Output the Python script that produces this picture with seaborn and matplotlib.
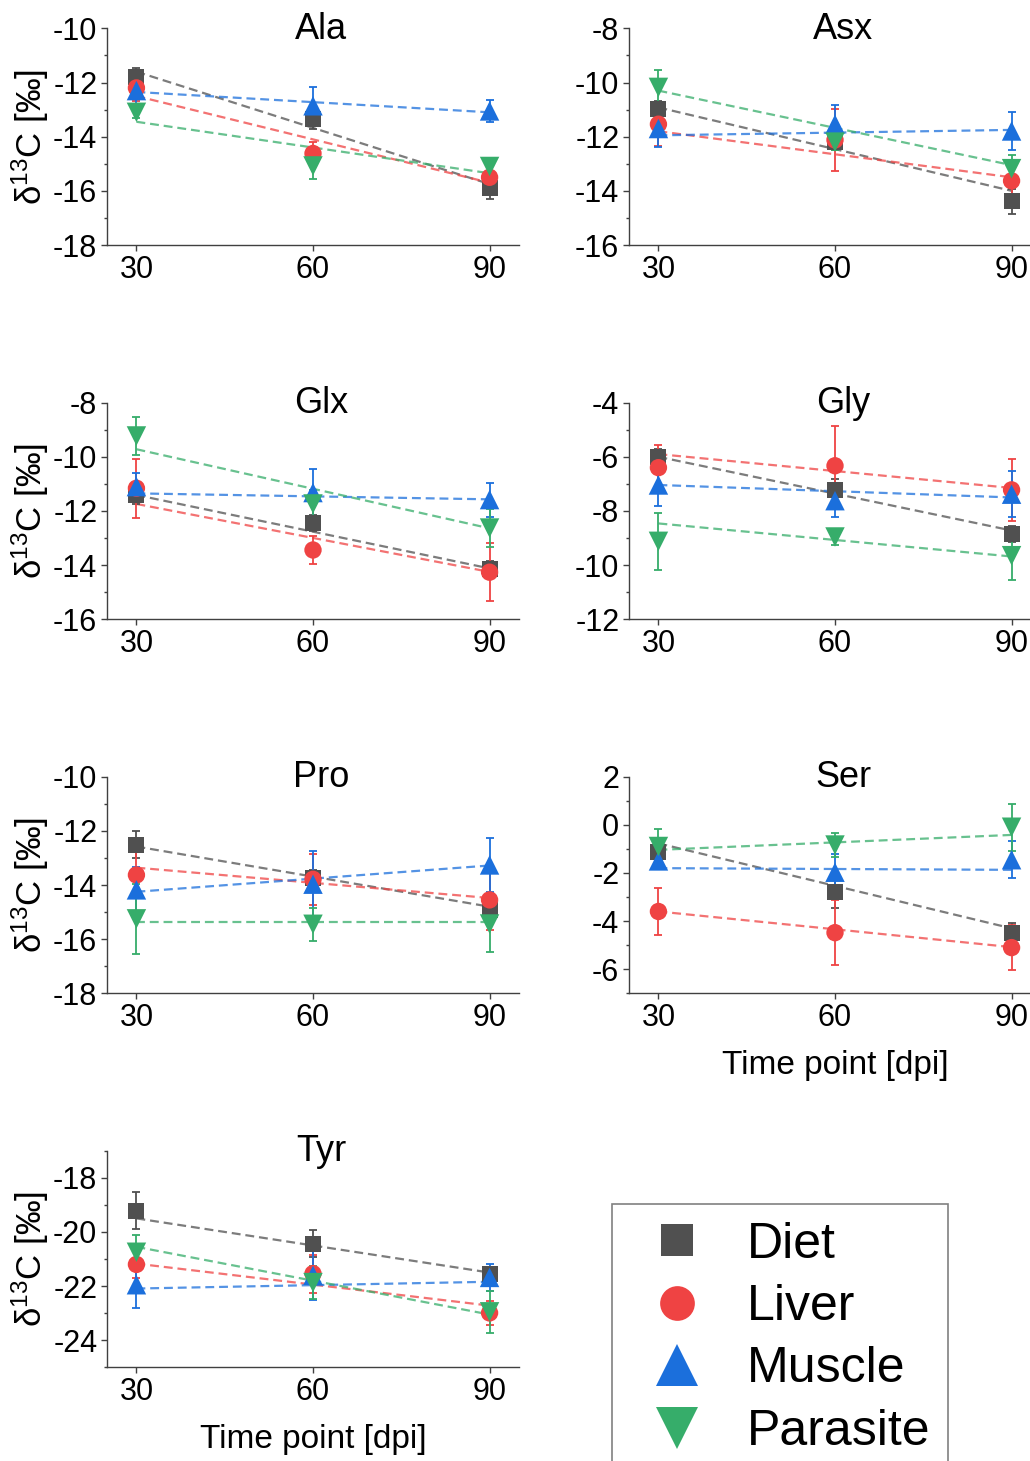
import numpy as np
import pandas as pd
import matplotlib
matplotlib.use("Agg")
import matplotlib.pyplot as plt
import seaborn as sns
from matplotlib.lines import Line2D
from matplotlib.ticker import MultipleLocator

sns.set_theme(style="ticks")
plt.rcParams["font.family"] = ["Liberation Sans", "DejaVu Sans"]
plt.rcParams["axes.unicode_minus"] = False
plt.rcParams["mathtext.default"] = "regular"
plt.rcParams["text.color"] = "black"
plt.rcParams["axes.labelcolor"] = "black"
plt.rcParams["xtick.color"] = "black"
plt.rcParams["ytick.color"] = "black"

# ---------------------------------------------------------------- data
days = [30, 60, 90]
tissues = ["Diet", "Liver", "Muscle", "Parasite"]

# mean delta13C per tissue (rows: Diet, Liver, Muscle, Parasite; cols: 30/60/90 dpi)
ala_mean = [[-11.78, -13.35, -15.88], [-12.2, -14.62, -15.5], [-12.3, -12.86, -13.05], [-13.1, -15.08, -15.1]]
ala_err = [[0.3, 0.38, 0.42], [0.5, 0.43, 0.5], [0.5, 0.7, 0.4], [0.2, 0.5, 0.3]]
ala_fit = [[-11.6, -15.75], [-12.5, -15.7], [-12.35, -13.1], [-13.45, -15.35]]

asx_mean = [[-10.98, -12.2, -14.39], [-11.54, -12.12, -13.63], [-11.7, -11.54, -11.79], [-10.18, -12.2, -13.18]]
asx_err = [[0.3, 0.3, 0.45], [0.8, 1.15, 0.7], [0.67, 0.7, 0.7], [0.65, 0.3, 0.5]]
asx_fit = [[-10.92, -14.0], [-11.8, -13.5], [-11.95, -11.75], [-10.3, -13.05]]

glx_mean = [[-11.41, -12.43, -14.15], [-11.16, -13.44, -14.26], [-11.1, -11.32, -11.58], [-9.23, -11.74, -12.63]]
glx_err = [[0.35, 0.3, 0.3], [1.09, 0.5, 1.08], [0.5, 0.87, 0.63], [0.69, 0.5, 0.7]]
glx_fit = [[-11.41, -14.12], [-11.74, -14.25], [-11.35, -11.57], [-9.72, -12.64]]

gly_mean = [[-6.02, -7.22, -8.85], [-6.4, -6.33, -7.22], [-7.04, -7.62, -7.38], [-9.12, -8.96, -9.65]]
gly_err = [[0.3, 0.4, 0.3], [0.83, 1.45, 1.15], [0.77, 0.62, 0.85], [1.05, 0.3, 0.9]]
gly_fit = [[-6.0, -8.72], [-5.9, -7.15], [-7.04, -7.5], [-8.46, -9.68]]

pro_mean = [[-12.52, -13.75, -14.92], [-13.63, -13.79, -14.55], [-14.18, -13.97, -13.26], [-15.25, -15.45, -15.44]]
pro_err = [[0.5, 0.3, 0.4], [0.85, 0.95, 1.1], [0.85, 1.23, 1.0], [1.3, 0.6, 1.05]]
pro_fit = [[-12.58, -14.8], [-13.36, -14.48], [-14.25, -13.28], [-15.35, -15.35]]

ser_mean = [[-1.11, -2.79, -4.48], [-3.6, -4.48, -5.1], [-1.5, -1.97, -1.45], [-0.9, -0.84, -0.1]]
ser_err = [[0.4, 0.68, 0.4], [0.97, 1.36, 0.95], [0.3, 0.75, 0.77], [0.73, 0.5, 0.97]]
ser_fit = [[-0.77, -4.3], [-3.6, -5.08], [-1.8, -1.87], [-1.04, -0.42]]

tyr_mean = [[-19.22, -20.44, -21.54], [-21.2, -21.54, -22.99], [-21.95, -21.6, -21.68], [-20.75, -21.87, -22.95]]
tyr_err = [[0.68, 0.5, 0.25], [0.5, 0.7, 0.45], [0.86, 0.9, 0.5], [0.65, 0.6, 0.78]]
tyr_fit = [[-19.5, -21.5], [-21.17, -22.72], [-22.09, -21.84], [-20.55, -23.05]]

# ---------------------------------------------------------------- style
palette = {"Diet": "#505050", "Liver": "#EF4343", "Muscle": "#1B6FDC", "Parasite": "#36AD6A"}
marker_map = {"Diet": "s", "Liver": "o", "Muscle": "^", "Parasite": "v"}
size_map = {"Diet": 11.5 ** 2, "Liver": 12.5 ** 2, "Muscle": 14 ** 2, "Parasite": 14 ** 2}
dash_map = {t: (4, 2.2) for t in tissues}

panels = [
    ("Ala", ala_mean, ala_err, ala_fit, (-18, -10), 0, 0),
    ("Asx", asx_mean, asx_err, asx_fit, (-16, -8), 0, 1),
    ("Glx", glx_mean, glx_err, glx_fit, (-16, -8), 1, 0),
    ("Gly", gly_mean, gly_err, gly_fit, (-12, -4), 1, 1),
    ("Pro", pro_mean, pro_err, pro_fit, (-18, -10), 2, 0),
    ("Ser", ser_mean, ser_err, ser_fit, (-7, 2), 2, 1),
    ("Tyr", tyr_mean, tyr_err, tyr_fit, (-25, -17), 3, 0),
]

W, H = 1030, 1461
fig = plt.figure(figsize=(W / 100, H / 100), dpi=100)
col_left = [107 / W, 629 / W]
row_bottom = [0.8323, 0.5761, 0.3201, 0.0641]
ax_w, ax_h = 412 / W, 0.1483
spine_c = "#404040"

for name, means, errs, fits, ylim, r, c in panels:
    ax = fig.add_axes([col_left[c], row_bottom[r], ax_w, ax_h])

    pts = pd.DataFrame(
        [(d, means[i][j], errs[i][j], t) for i, t in enumerate(tissues) for j, d in enumerate(days)],
        columns=["day", "value", "err", "tissue"],
    )
    fit = pd.DataFrame(
        [(d, fits[i][k], t) for i, t in enumerate(tissues) for k, d in enumerate([days[0], days[-1]])],
        columns=["day", "value", "tissue"],
    )

    # regression lines
    sns.lineplot(data=fit, x="day", y="value", hue="tissue", style="tissue",
                 palette=palette, dashes=dash_map, hue_order=tissues, style_order=tissues,
                 linewidth=1.6, alpha=0.75, legend=False, ax=ax, zorder=2)

    # error bars
    for t in tissues:
        sub = pts[pts.tissue == t]
        ax.errorbar(sub.day, sub.value, yerr=sub.err, fmt="none", ecolor=palette[t],
                    elinewidth=1.3, capsize=2.8, capthick=1.3, zorder=3)

    # means
    sns.scatterplot(data=pts, x="day", y="value", hue="tissue", style="tissue", size="tissue",
                    palette=palette, markers=marker_map, sizes=size_map,
                    hue_order=tissues, style_order=tissues, size_order=tissues,
                    linewidth=0, alpha=1, legend=False, ax=ax, zorder=4)

    ax.set_xlim(25, 95)
    ax.set_ylim(*ylim)
    ax.set_xticks(days)
    ax.yaxis.set_major_locator(MultipleLocator(2))
    ax.yaxis.set_minor_locator(MultipleLocator(1))
    ax.tick_params(axis="both", which="major", direction="out", length=4, width=1,
                   color=spine_c, labelsize=22, pad=3, labelcolor="black")
    ax.tick_params(axis="y", which="minor", direction="out", length=2.5, width=1, color=spine_c)
    sns.despine(ax=ax)
    for s in ("left", "bottom"):
        ax.spines[s].set_color(spine_c)
        ax.spines[s].set_linewidth(1.0)

    ax.text(0.52, 0.953, name, transform=ax.transAxes, ha="center", va="baseline",
            fontsize=26, color="black")

    if c == 0:
        ax.set_ylabel("δ$^{13}$C [‰]", fontsize=25)
        ax.yaxis.set_label_coords(-0.137, 0.5)
    else:
        ax.set_ylabel("")
    if name in ("Ser", "Tyr"):
        ax.set_xlabel("Time point [dpi]", fontsize=24)
        ax.xaxis.set_label_coords(0.5, -0.26)
    else:
        ax.set_xlabel("")

# legend
handle_ms = {"Diet": 23, "Liver": 25, "Muscle": 30, "Parasite": 30}
handles = [Line2D([], [], linestyle="none", marker=marker_map[t], markersize=handle_ms[t],
                  markerfacecolor=palette[t], markeredgewidth=0) for t in tissues]
leg = fig.legend(handles, tissues, loc="upper left",
                 bbox_to_anchor=(612 / W, 1 - 1204 / H), bbox_transform=fig.transFigure,
                 fontsize=36, frameon=True, fancybox=False, borderaxespad=0,
                 borderpad=0.35, handlelength=1.9, handletextpad=0.45, labelspacing=0.33)
leg.get_frame().set_edgecolor("#606060")
leg.get_frame().set_linewidth(1.2)
for txt in leg.get_texts():
    txt.set_color("black")

fig.savefig("out.png", dpi=100)
